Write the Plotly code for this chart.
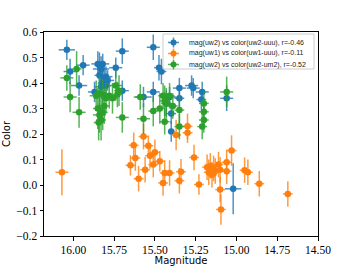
import plotly.graph_objects as go

# ---- data: mag(uw2) vs color(uw2-uuu)
blue_mag = [16.04, 16.02, 15.94, 15.965, 15.87, 15.85, 15.84, 15.82, 15.83, 15.84, 15.81, 15.80,
            15.82, 15.79, 15.83, 15.80, 15.74, 15.70, 15.70, 15.57, 15.51, 15.51, 15.475, 15.46,
            15.41, 15.35, 15.35, 15.275, 15.265, 15.21, 15.215, 15.06, 15.43, 15.40, 15.40, 15.02]
blue_col = [0.53, 0.445, 0.47, 0.39, 0.365, 0.475, 0.47, 0.475, 0.455, 0.43, 0.42, 0.425,
            0.40, 0.41, 0.385, 0.39, 0.46, 0.525, 0.37, 0.345, 0.54, 0.365, 0.46, 0.445,
            0.345, 0.38, 0.34, 0.39, 0.38, 0.365, 0.335, 0.34, 0.32, 0.28, 0.21, -0.015]
blue_xerr = [0.05, 0.04, 0.04, 0.05, 0.04, 0.04, 0.03, 0.04, 0.05, 0.03, 0.04, 0.04,
             0.03, 0.04, 0.04, 0.03, 0.04, 0.04, 0.04, 0.05, 0.04, 0.04, 0.03, 0.03,
             0.04, 0.04, 0.03, 0.04, 0.04, 0.04, 0.03, 0.04, 0.03, 0.03, 0.02, 0.05]
blue_yerr = [0.04, 0.05, 0.04, 0.04, 0.04, 0.05, 0.05, 0.04, 0.05, 0.04, 0.05, 0.04,
             0.05, 0.04, 0.05, 0.04, 0.04, 0.05, 0.04, 0.04, 0.05, 0.04, 0.05, 0.05,
             0.04, 0.04, 0.04, 0.04, 0.04, 0.04, 0.04, 0.05, 0.05, 0.04, 0.04, 0.1]

# ---- data: mag(uw1) vs color(uw1-uuu)
orange_mag = [16.07, 15.65, 15.63, 15.62, 15.60, 15.56, 15.57, 15.54, 15.53, 15.51, 15.50, 15.47,
              15.45, 15.44, 15.41, 15.37, 15.30, 15.30, 15.35, 15.34, 15.26, 15.23, 15.18, 15.17,
              15.16, 15.15, 15.14, 15.13, 15.11, 15.10, 15.06, 15.06, 15.03, 15.10, 15.095, 14.95,
              14.93, 14.86, 14.685]
orange_col = [0.05, 0.077, 0.156, 0.106, 0.025, 0.06, 0.19, 0.154, 0.115, 0.08, 0.128, 0.093,
              0.008, 0.047, 0.047, 0.196, 0.205, 0.23, 0.017, 0.052, 0.108, 0.002, 0.07, 0.05,
              0.075, 0.04, 0.065, 0.055, 0.08, 0.06, 0.089, 0.054, 0.135, -0.018, -0.096, 0.058,
              0.05, 0.005, -0.035]
orange_xerr = [0.04, 0.03, 0.03, 0.03, 0.03, 0.03, 0.03, 0.03, 0.03, 0.03, 0.03, 0.03,
               0.03, 0.03, 0.03, 0.03, 0.03, 0.03, 0.03, 0.03, 0.03, 0.03, 0.03, 0.03,
               0.03, 0.03, 0.03, 0.03, 0.03, 0.03, 0.03, 0.03, 0.03, 0.03, 0.03, 0.03,
               0.03, 0.03, 0.03]
orange_yerr = [0.09, 0.04, 0.05, 0.05, 0.05, 0.05, 0.05, 0.04, 0.05, 0.05, 0.05, 0.04,
               0.05, 0.05, 0.05, 0.06, 0.04, 0.05, 0.05, 0.05, 0.05, 0.04, 0.05, 0.05,
               0.05, 0.05, 0.05, 0.05, 0.05, 0.05, 0.05, 0.05, 0.06, 0.05, 0.06, 0.05,
               0.05, 0.05, 0.05]

# ---- data: mag(uw2) vs color(uw2-um2)
green_mag = [16.04, 16.02, 15.98, 15.965, 15.86, 15.84, 15.82, 15.80, 15.78, 15.76, 15.74, 15.73,
             15.72, 15.85, 15.84, 15.83, 15.845, 15.82, 15.81, 15.70, 15.59, 15.57, 15.51, 15.47,
             15.45, 15.44, 15.43, 15.44, 15.41, 15.39, 15.35, 15.35, 15.20, 15.20, 15.20, 15.21,
             15.06]
green_col = [0.42, 0.345, 0.455, 0.285, 0.35, 0.36, 0.355, 0.34, 0.35, 0.34, 0.39, 0.355,
             0.37, 0.30, 0.275, 0.255, 0.245, 0.285, 0.31, 0.265, 0.345, 0.26, 0.29, 0.30,
             0.35, 0.33, 0.32, 0.248, 0.35, 0.31, 0.294, 0.229, 0.32, 0.287, 0.255, 0.229,
             0.365]
green_xerr = [0.04, 0.04, 0.03, 0.04, 0.04, 0.03, 0.04, 0.03, 0.04, 0.03, 0.04, 0.03,
              0.03, 0.03, 0.04, 0.03, 0.03, 0.03, 0.03, 0.04, 0.04, 0.04, 0.03, 0.03,
              0.03, 0.03, 0.03, 0.03, 0.03, 0.03, 0.03, 0.03, 0.03, 0.03, 0.03, 0.03,
              0.04]
green_yerr = [0.05, 0.06, 0.07, 0.06, 0.06, 0.07, 0.06, 0.06, 0.05, 0.06, 0.06, 0.05,
              0.06, 0.08, 0.07, 0.08, 0.07, 0.07, 0.07, 0.06, 0.05, 0.06, 0.06, 0.06,
              0.05, 0.06, 0.06, 0.05, 0.05, 0.05, 0.06, 0.05, 0.05, 0.05, 0.05, 0.05,
              0.06]

names = ["mag(uw2) vs color(uw2-uuu), r=-0.46",
         "mag(uw1) vs color(uw1-uuu), r=-0.11",
         "mag(uw2) vs color(uw2-um2), r=-0.52"]
colors = ["#1f77b4", "#ff7f0e", "#2ca02c"]
ecolors = ["rgba(31,119,180,0.8)", "rgba(255,127,14,0.8)", "rgba(44,160,44,0.8)"]

series = [(blue_mag, blue_col, blue_xerr, blue_yerr),
          (orange_mag, orange_col, orange_xerr, orange_yerr),
          (green_mag, green_col, green_xerr, green_yerr)]

fig = go.Figure()
for (m, c, xe, ye), nm, col, ec in zip(series, names, colors, ecolors):
    fig.add_trace(go.Scatter(
        x=m, y=c, mode="markers", name=nm, showlegend=False,
        marker=dict(color=col, size=6.5),
        error_x=dict(type="data", array=xe, color=ec, thickness=1.5, width=0),
        error_y=dict(type="data", array=ye, color=ec, thickness=1.5, width=0),
    ))

# ---- compact matplotlib-style legend drawn in paper coordinates
L, T, W, H = 44, 32, 274, 204  # plot area in pixels


def px(xp):
    return (xp - L) / W


def py(yp):
    return 1 - (yp - T) / H


shapes = [dict(type="rect", xref="paper", yref="paper",
               x0=px(163), x1=px(314), y0=py(69), y1=py(34),
               fillcolor="rgba(255,255,255,0.8)", line=dict(color="#cccccc", width=1),
               layer="above")]
annotations = []
rows = [42.5, 53.5, 64.5]
for yrow, nm, col, ec in zip(rows, names, colors, ecolors):
    shapes.append(dict(type="line", xref="paper", yref="paper",
                       x0=px(168), x1=px(179), y0=py(yrow), y1=py(yrow),
                       line=dict(color=ec, width=1.5), layer="above"))
    shapes.append(dict(type="line", xref="paper", yref="paper",
                       x0=px(173.5), x1=px(173.5), y0=py(yrow - 5), y1=py(yrow + 5),
                       line=dict(color=ec, width=1.5), layer="above"))
    shapes.append(dict(type="circle", xref="paper", yref="paper",
                       x0=px(170.5), x1=px(176.5), y0=py(yrow + 3), y1=py(yrow - 3),
                       fillcolor=col, line=dict(color=col, width=0), layer="above"))
    annotations.append(dict(xref="paper", yref="paper", x=px(187), y=py(yrow),
                            xanchor="left", yanchor="middle", showarrow=False, text=nm,
                            font=dict(family="Liberation Sans", size=7, color="#222222")))

axis_common = dict(showline=True, linecolor="black", linewidth=1, mirror=True,
                   ticks="outside", ticklen=3.5, tickwidth=1, tickcolor="black",
                   showgrid=False, zeroline=False, automargin=False,
                   tickfont=dict(family="Liberation Serif", size=11.5, color="black"))

fig.update_layout(
    width=354, height=266,
    margin=dict(l=L, r=354 - L - W, t=T, b=266 - T - H),
    paper_bgcolor="white", plot_bgcolor="white",
    xaxis=dict(range=[16.18, 14.5], tickvals=[16.0, 15.75, 15.5, 15.25, 15.0, 14.75, 14.5],
               ticktext=["16.00", "15.75", "15.50", "15.25", "15.00", "14.75", "14.50"],
               title=dict(text="Magnitude", font=dict(family="DejaVu Sans", size=10, color="black"),
                          standoff=2),
               **axis_common),
    yaxis=dict(range=[-0.2, 0.6], tickvals=[-0.2, -0.1, 0.0, 0.1, 0.2, 0.3, 0.4, 0.5, 0.6],
               ticktext=["\u22120.2", "\u22120.1", "0.0", "0.1", "0.2", "0.3", "0.4", "0.5", "0.6"],
               title=dict(text="Color", font=dict(family="DejaVu Sans", size=10, color="black"),
                          standoff=3),
               **axis_common),
    shapes=shapes,
    annotations=annotations,
    showlegend=False,
)

fig.write_html("out.html", config={"displayModeBar": False},
               post_script="document.body.style.margin='0';document.body.style.overflow='hidden';")
